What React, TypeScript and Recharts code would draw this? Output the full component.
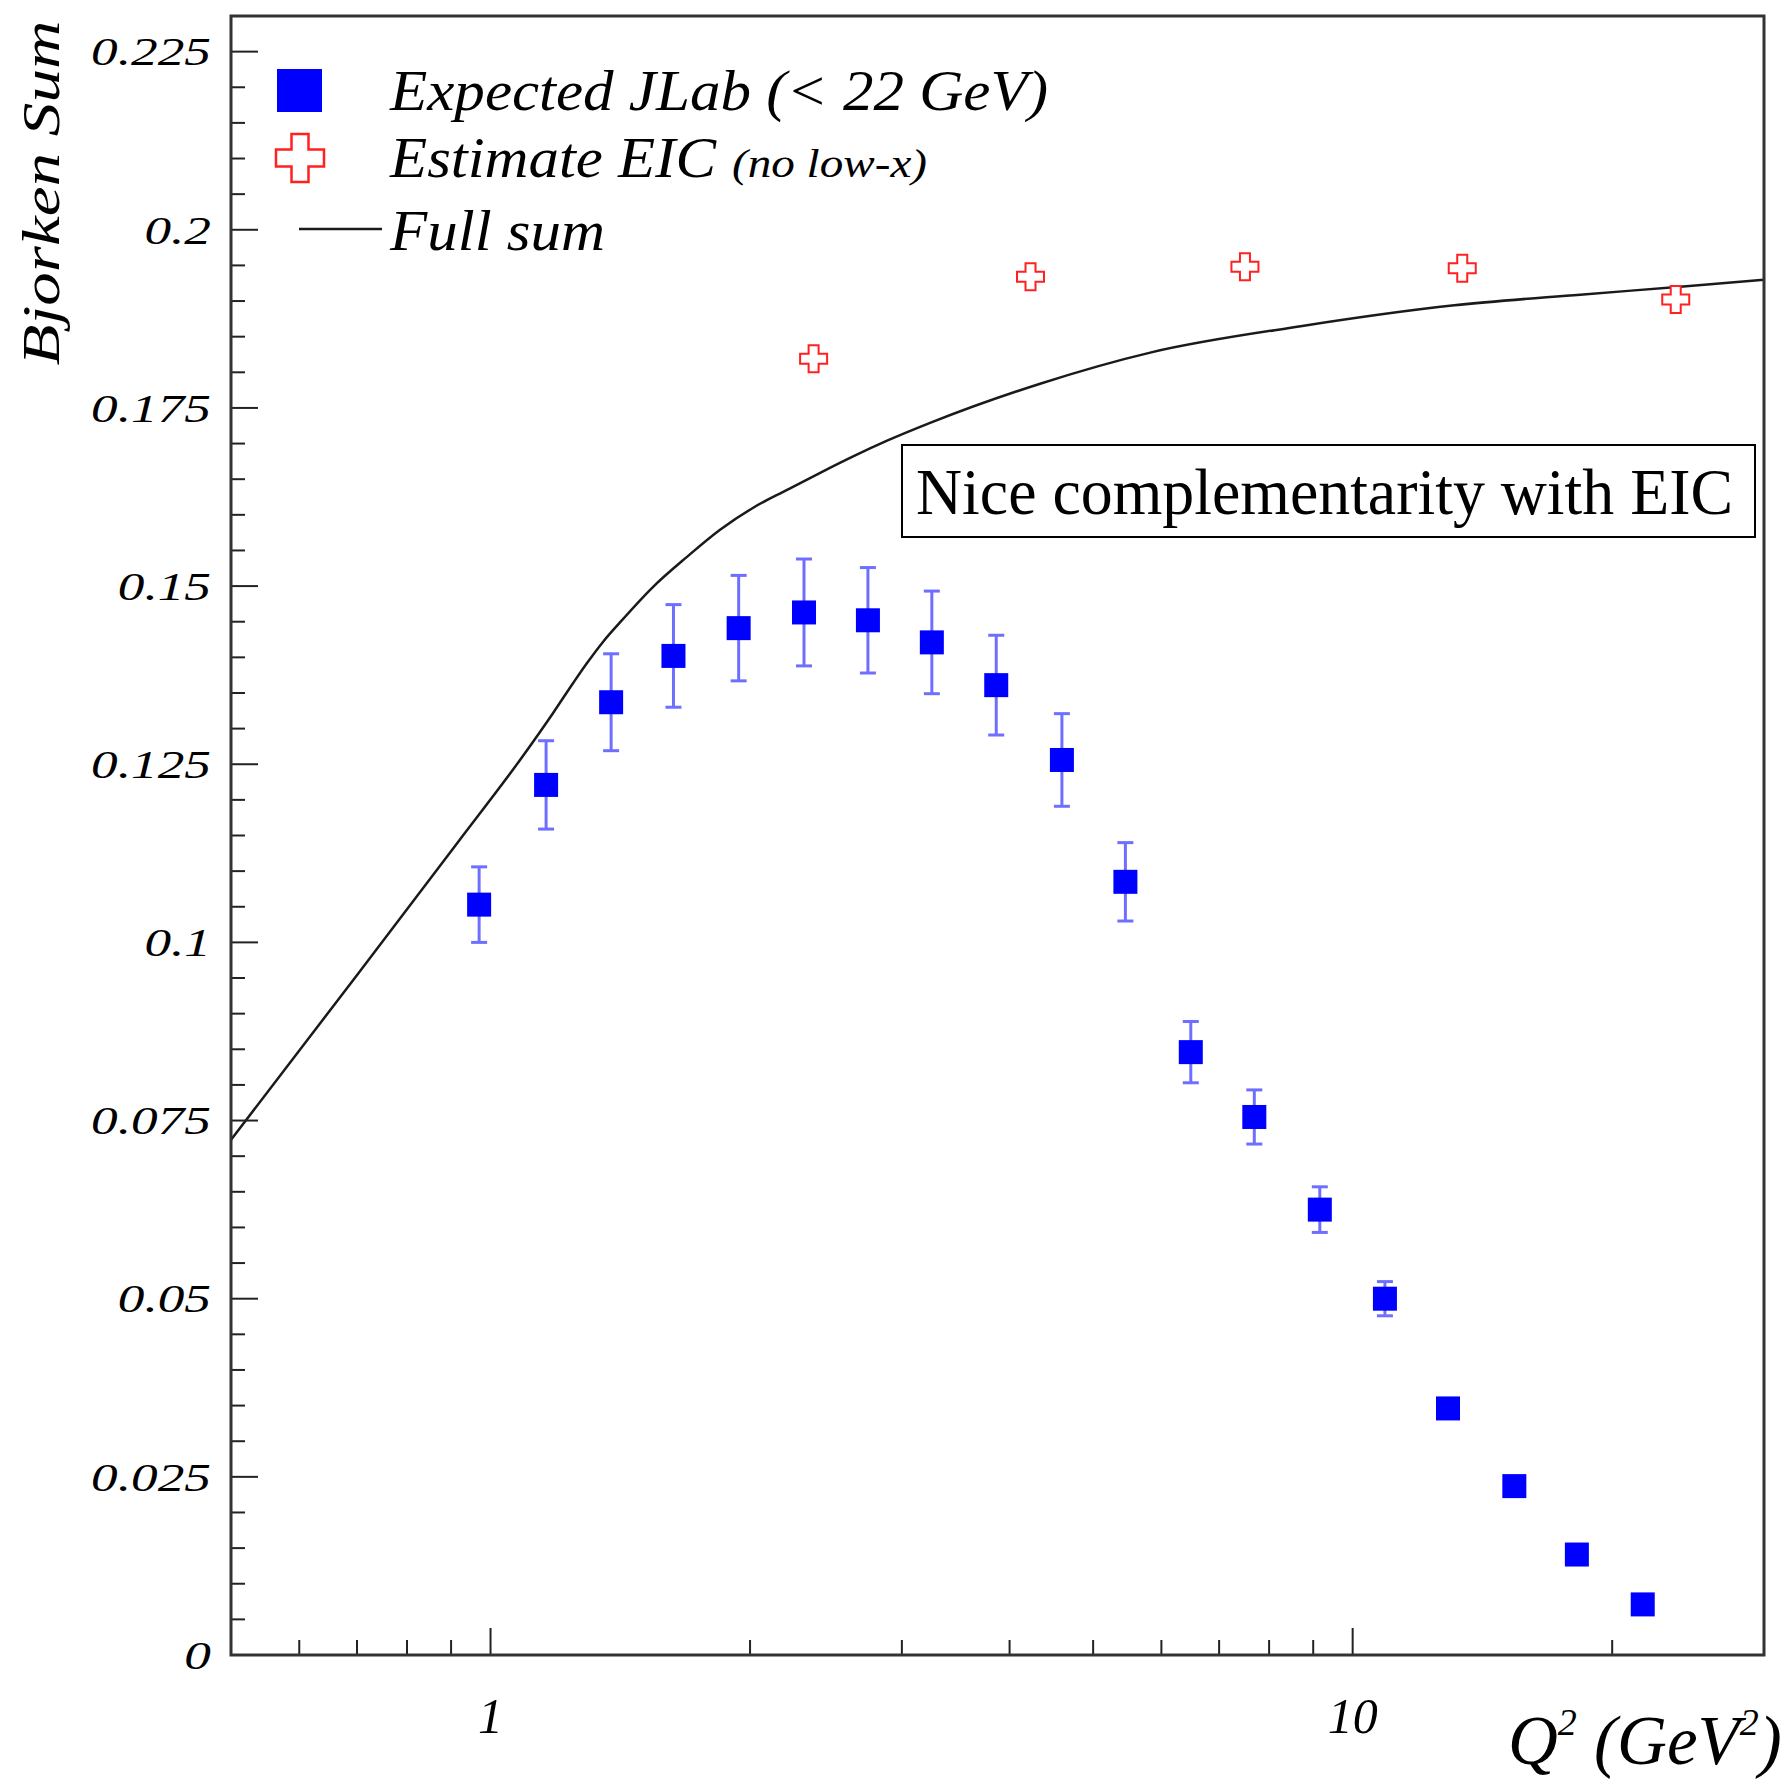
import React from "react"
import { ComposedChart, XAxis, YAxis, Line, Scatter, ErrorBar } from "recharts"

// Expected JLab points (< 22 GeV)
const JLAB_Q2 = [0.97, 1.16, 1.38, 1.63, 1.94, 2.31, 2.74, 3.25, 3.86, 4.6, 5.45, 6.49, 7.69, 9.16, 10.9, 12.9, 15.4, 18.2, 21.7]
const JLAB_SUM = [0.1053, 0.1221, 0.1337, 0.1402, 0.1441, 0.1463, 0.1452, 0.1421, 0.1361, 0.1256, 0.1085, 0.0846, 0.0755, 0.0625, 0.05, 0.0346, 0.0237, 0.0141, 0.0071]
const JLAB_ERR = [0.0053, 0.0062, 0.0068, 0.0072, 0.0074, 0.0075, 0.0074, 0.0072, 0.007, 0.0065, 0.0055, 0.0043, 0.0038, 0.0032, 0.0024, 0.0012, 0.0008, 0.0006, 0.0004]

// Estimate EIC (no low-x)
const EIC_Q2 = [2.37, 4.23, 7.5, 13.4, 23.7]
const EIC_SUM = [0.1819, 0.1934, 0.1948, 0.1946, 0.1902]

// Full sum curve
const FULL_Q2 = [0.5, 0.702, 0.917, 1.082, 1.182, 1.247, 1.294, 1.351, 1.413, 1.544, 1.69, 1.846, 2.017, 2.208, 2.412, 2.634, 2.884, 3.235, 4.34, 5.84, 8.74, 13.12, 18.36, 23.99, 30]
const FULL_SUM = [0.0723, 0.0956, 0.1141, 0.1256, 0.1322, 0.1364, 0.1392, 0.1422, 0.1449, 0.1499, 0.1541, 0.1579, 0.161, 0.1635, 0.1659, 0.1682, 0.1704, 0.1729, 0.1784, 0.1828, 0.1865, 0.1894, 0.1909, 0.192, 0.193]

const X_TICKS = [0.6, 0.7, 0.8, 0.9, 1, 2, 3, 4, 5, 6, 7, 8, 9, 10, 20]
const X_LABELS = [1, 10]
const Y_TICKS = Array.from({ length: 46 }, (_, i) => +(i * 0.005).toFixed(3))

const jlab = JLAB_Q2.map((q2, i) => ({ q2, v: JLAB_SUM[i], err: JLAB_ERR[i] }))
const eic = EIC_Q2.map((q2, i) => ({ q2, v: EIC_SUM[i] }))
const full = FULL_Q2.map((q2, i) => ({ q2, v: FULL_SUM[i] }))

const W = 1782
const H = 1775
const PL = 223
const PT = 8
const PR = 1756
const PB = 1647
const SERIF = '"Liberation Serif", "DejaVu Serif", serif'

function YTick({ y, payload }: any) {
  const v = payload.value
  const major = Math.round(v * 1000) % 25 === 0
  return (
    <g>
      <line x1={PL} x2={PL + (major ? 27 : 14)} y1={y} y2={y} stroke="#222" strokeWidth={2} />
      {major && (
        <text
          transform={`translate(203 ${y}) scale(1.3 1)`}
          textAnchor="end"
          dominantBaseline="central"
          fontFamily={SERIF}
          fontStyle="italic"
          fontSize={41}
          fill="#000"
        >
          {String(parseFloat(v.toFixed(3)))}
        </text>
      )}
    </g>
  )
}

function XTick({ x, payload }: any) {
  const v = payload.value
  const major = X_LABELS.includes(v)
  return (
    <g>
      <line x1={x} x2={x} y1={PB} y2={PB - (major ? 27 : 15)} stroke="#222" strokeWidth={2} />
      {major && (
        <text x={x} y={1725} textAnchor="middle" fontFamily={SERIF} fontStyle="italic" fontSize={50} fill="#000">
          {v}
        </text>
      )}
    </g>
  )
}

function Square({ cx, cy }: any) {
  return <rect x={cx - 12} y={cy - 12} width={24} height={24} fill="#0000ff" />
}

function crossPath(cx: number, cy: number, h: number, a: number) {
  return `M${cx - a},${cy - h}L${cx + a},${cy - h}L${cx + a},${cy - a}L${cx + h},${cy - a}L${cx + h},${cy + a}L${cx + a},${cy + a}L${cx + a},${cy + h}L${cx - a},${cy + h}L${cx - a},${cy + a}L${cx - h},${cy + a}L${cx - h},${cy - a}L${cx - a},${cy - a}Z`
}

function Cross({ cx, cy }: any) {
  return <path d={crossPath(cx, cy, 13.5, 5)} fill="#fff" stroke="#ff2020" strokeWidth={2} />
}

export default function App() {
  return (
    <div style={{ position: "relative", width: W, height: H }}>
      <ComposedChart width={W} height={H} margin={{ top: PT, right: W - PR, bottom: 28, left: 23 }}>
        <XAxis
          type="number"
          dataKey="q2"
          scale="log"
          domain={[0.5, 30]}
          allowDataOverflow
          ticks={X_TICKS}
          interval={0}
          height={100}
          axisLine={false}
          tickLine={false}
          tick={(p: any) => <XTick {...p} />}
        />
        <YAxis
          type="number"
          dataKey="v"
          domain={[0, 0.23]}
          allowDataOverflow
          ticks={Y_TICKS}
          interval={0}
          width={200}
          axisLine={false}
          tickLine={false}
          tick={(p: any) => <YTick {...p} />}
        />
        <Line
          data={full}
          dataKey="v"
          type="monotone"
          dot={false}
          stroke="#1a1a1a"
          strokeWidth={2.5}
          isAnimationActive={false}
        />
        <Scatter data={jlab} dataKey="v" shape={(p: any) => <Square {...p} />} isAnimationActive={false}>
          <ErrorBar dataKey="err" direction="y" width={8} strokeWidth={3} stroke="#6f6fff" />
        </Scatter>
        <Scatter data={eic} dataKey="v" shape={(p: any) => <Cross {...p} />} isAnimationActive={false} />
      </ComposedChart>

      <svg width={W} height={H} style={{ position: "absolute", left: 0, top: 0, pointerEvents: "none" }}>
        {/* frame */}
        <rect x={PL} y={PT} width={PR - PL} height={PB - PT} fill="none" stroke="#333" strokeWidth={3} />

        {/* legend */}
        <rect x={269} y={61} width={45} height={43} fill="#0000ff" />
        <text x={382} y={102} fontFamily={SERIF} fontStyle="italic" fontSize={56} textLength={658} lengthAdjust="spacingAndGlyphs">
          Expected JLab (&lt; 22 GeV)
        </text>
        <path d={crossPath(292, 150, 24, 8.5)} fill="#fff" stroke="#ff2020" strokeWidth={2.5} />
        <text x={382} y={169} fontFamily={SERIF} fontStyle="italic" fontSize={56} textLength={326} lengthAdjust="spacingAndGlyphs">
          Estimate EIC
        </text>
        <text x={724} y={169} fontFamily={SERIF} fontStyle="italic" fontSize={40} textLength={195} lengthAdjust="spacingAndGlyphs">
          (no low-x)
        </text>
        <line x1={291} x2={374} y1={221} y2={221} stroke="#1a1a1a" strokeWidth={2.5} />
        <text x={382} y={242} fontFamily={SERIF} fontStyle="italic" fontSize={56} textLength={215} lengthAdjust="spacingAndGlyphs">
          Full sum
        </text>

        {/* annotation */}
        <rect x={894} y={437} width={853} height={92} fill="#fff" stroke="#000" strokeWidth={2} />
        <text x={908} y={506} fontFamily={SERIF} fontSize={66} textLength={817} lengthAdjust="spacingAndGlyphs">
          Nice complementarity with EIC
        </text>

        {/* axis titles */}
        <text
          transform="translate(51 185) rotate(-90)"
          textAnchor="middle"
          fontFamily={SERIF}
          fontStyle="italic"
          fontSize={52}
          textLength={345}
          lengthAdjust="spacingAndGlyphs"
        >
          Bjorken Sum
        </text>
        <text x={1500} y={1756} fontFamily={SERIF} fontStyle="italic" fontSize={69}>
          Q<tspan fontSize={38} dy={-29}>2</tspan>
          <tspan dy={29}> (GeV</tspan>
          <tspan fontSize={38} dy={-29}>2</tspan>
          <tspan dy={29}>)</tspan>
        </text>
      </svg>
    </div>
  )
}
